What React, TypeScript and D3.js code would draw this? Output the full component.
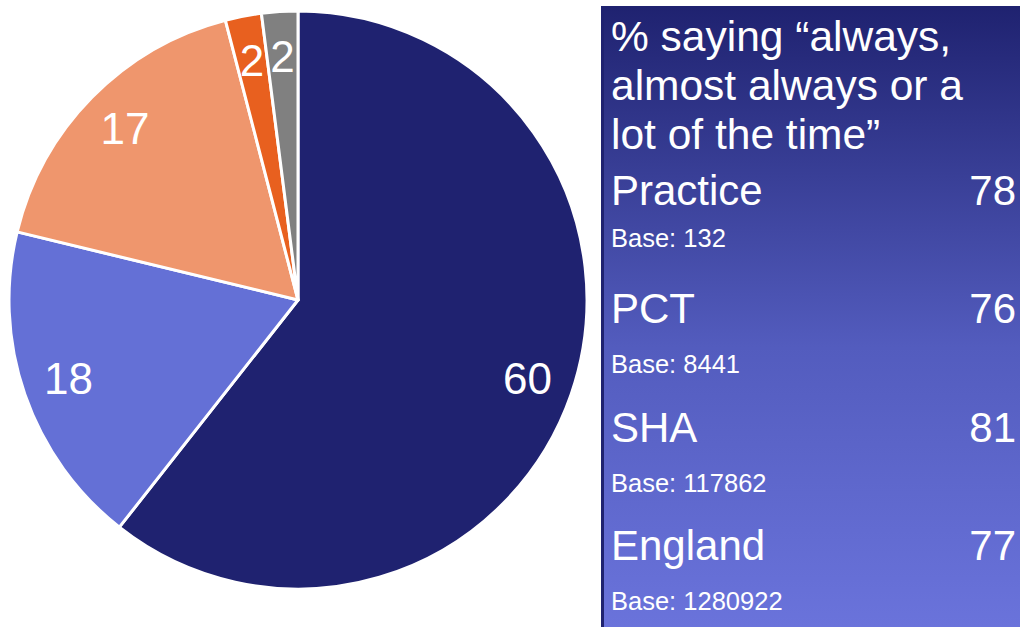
import React, { useEffect, useRef } from 'react';
import * as d3 from 'd3';

// pie slices, clockwise from 12 o'clock
const sliceValues = [60, 18, 17, 2, 2];
const sliceColors = ['#1F2270', '#6470D6', '#EF966D', '#E8601F', '#808080'];

// side panel
const titleLines = ['% saying \u201calways,', 'almost always or a', 'lot of the time\u201d'];
const areaNames = ['Practice', 'PCT', 'SHA', 'England'];
const areaScores = [78, 76, 81, 77];
const areaBases = [132, 8441, 117862, 1280922];

export default function App() {
  const ref = useRef<SVGSVGElement>(null);

  useEffect(() => {
    const svg = d3.select(ref.current);
    svg.selectAll('*').remove();

    const font = 'Arial, "Liberation Sans", sans-serif';
    const cx = 298;
    const cy = 300;
    const r = 289;

    // pie
    const pie = d3.pie<number>().sort(null).value(d => d);
    const arcs = pie(sliceValues);
    const arc = d3.arc<d3.PieArcDatum<number>>().innerRadius(0).outerRadius(r);
    const labelArc = d3.arc<d3.PieArcDatum<number>>().innerRadius(r * 0.84).outerRadius(r * 0.84);

    const g = svg.append('g').attr('transform', `translate(${cx},${cy})`);
    g.selectAll('path.slice')
      .data(arcs)
      .join('path')
      .attr('class', 'slice')
      .attr('d', arc)
      .attr('fill', (d, i) => sliceColors[i])
      .attr('stroke', '#ffffff')
      .attr('stroke-width', 3)
      .attr('stroke-linejoin', 'round');

    g.selectAll('text.lbl')
      .data(arcs)
      .join('text')
      .attr('class', 'lbl')
      .attr('transform', d => {
        const [x, y] = labelArc.centroid(d);
        return `translate(${x},${y})`;
      })
      .attr('text-anchor', 'middle')
      .attr('dy', '0.33em')
      .attr('font-family', font)
      .attr('font-size', 44)
      .attr('fill', '#ffffff')
      .text(d => d.data);

    // panel with vertical gradient
    const defs = svg.append('defs');
    const grad = defs.append('linearGradient')
      .attr('id', 'panelGrad')
      .attr('x1', 0).attr('y1', 0).attr('x2', 0).attr('y2', 1);
    grad.append('stop').attr('offset', '0%').attr('stop-color', '#1F2270');
    grad.append('stop').attr('offset', '55%').attr('stop-color', '#535CBE');
    grad.append('stop').attr('offset', '100%').attr('stop-color', '#6A73DB');

    const px = 601;
    const py = 6;
    svg.append('rect')
      .attr('x', px).attr('y', py)
      .attr('width', 1020 - px).attr('height', 627 - py)
      .attr('fill', 'url(#panelGrad)');
    svg.append('rect')
      .attr('x', px).attr('y', py)
      .attr('width', 3).attr('height', 627 - py)
      .attr('fill', '#1F2270');

    const tx = 611;
    const rx = 1016;
    svg.append('g')
      .selectAll('text')
      .data(titleLines)
      .join('text')
      .attr('x', tx)
      .attr('y', (d, i) => 51 + i * 49)
      .attr('font-family', font)
      .attr('font-size', 42.5)
      .attr('fill', '#ffffff')
      .text(d => d);

    const rowY = d3.scaleLinear().domain([0, 3]).range([205, 560]);
    const rows = svg.append('g')
      .selectAll('g')
      .data(areaNames)
      .join('g')
      .attr('transform', (d, i) => `translate(0,${rowY(i)})`);

    rows.append('text')
      .attr('x', tx)
      .attr('font-family', font)
      .attr('font-size', 42)
      .attr('fill', '#ffffff')
      .text(d => d);

    rows.append('text')
      .attr('x', rx)
      .attr('text-anchor', 'end')
      .attr('font-family', font)
      .attr('font-size', 42)
      .attr('fill', '#ffffff')
      .text((d, i) => areaScores[i]);

    rows.append('text')
      .attr('x', tx)
      .attr('y', (d, i) => (i === 0 ? 42 : 50))
      .attr('font-family', font)
      .attr('font-size', 25.5)
      .attr('fill', '#ffffff')
      .text((d, i) => `Base: ${areaBases[i]}`);
  }, []);

  return (
    <svg
      ref={ref}
      width={1020}
      height={627}
      style={{ position: 'absolute', left: 0, top: 0, background: '#ffffff' }}
    />
  );
}
